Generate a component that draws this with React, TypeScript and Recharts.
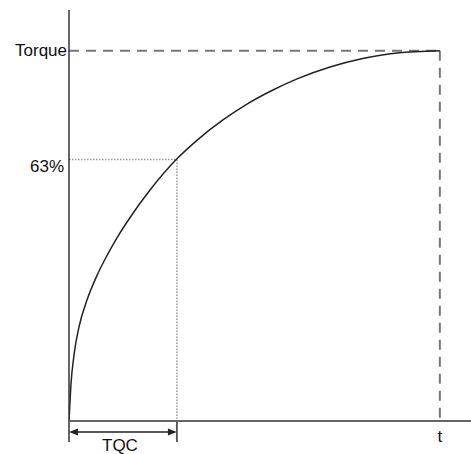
import { LineChart, Line, XAxis, YAxis, ReferenceLine } from "recharts";

// curve (x: time, y: % of final torque)
const timeValues = [0, 0.5, 1.4, 2.7, 4.9, 7.5, 10.2, 12.9, 16.7, 21.8, 29.1, 34.5, 41.5, 48, 55, 61.5, 70.4, 79.2, 88.4, 100];
const torqueValues = [0, 9.5, 18.2, 25.4, 32.8, 39.2, 44.6, 49.4, 55.3, 62.3, 70.8, 75.8, 81.3, 85.6, 89.4, 92.4, 95.6, 97.9, 99.4, 100];

const torqueLevel = 100;
const markLevel = 70.6;
const tqcTime = 29.1;
const endTime = 100;

const yTickLabels: Record<number, string> = { [markLevel]: "63%", [torqueLevel]: "Torque" };
const xTickLabels: Record<number, string> = { [tqcTime / 2]: "TQC", [endTime]: "t" };

const data = timeValues.map((t, i) => ({ t, v: torqueValues[i] }));

const FONT = "'Liberation Sans', Arial, sans-serif";

const YTick = ({ x, y, payload }: any) => {
  const isTorque = payload.value === torqueLevel;
  return (
    <text
      x={isTorque ? x : x - 3}
      y={y}
      dy={isTorque ? 5.5 : 12}
      textAnchor="end"
      fontSize={17}
      fontFamily={FONT}
      fill="#111"
    >
      {yTickLabels[payload.value]}
    </text>
  );
};

const XTick = ({ x, y, payload }: any) => {
  const isEnd = payload.value === endTime;
  return (
    <text
      x={isEnd ? x : x - 3}
      y={y}
      dy={isEnd ? 21 : 29.5}
      textAnchor="middle"
      fontSize={17}
      fontFamily={FONT}
      fill="#111"
    >
      {xTickLabels[payload.value]}
    </text>
  );
};

// double-headed arrow for the TQC span
const ArrowShape = (props: any) => {
  const { x1, y1, x2, y2 } = props;
  const len = 9;
  const h = 3.5;
  return (
    <g>
      <line x1={x1 + 3} y1={y1} x2={x2 - 3} y2={y2} stroke="#222" strokeWidth={1.5} />
      <polygon points={`${x1},${y1} ${x1 + len},${y1 - h} ${x1 + len},${y1 + h}`} fill="#222" />
      <polygon points={`${x2},${y2} ${x2 - len},${y2 - h} ${x2 - len},${y2 + h}`} fill="#222" />
    </g>
  );
};

export default function App() {
  return (
    <div style={{ position: "absolute", left: 0, top: 0, background: "#fff" }}>
      <LineChart width={471} height={454} data={data} margin={{ top: 10, right: 0, bottom: 0, left: 0 }}>
        <XAxis
          dataKey="t"
          type="number"
          domain={[0, 108.4]}
          allowDataOverflow
          ticks={[tqcTime / 2, endTime]}
          tick={<XTick />}
          tickLine={false}
          tickSize={0}
          tickMargin={0}
          axisLine={{ stroke: "#666", strokeWidth: 2 }}
          height={33}
        />
        <YAxis
          type="number"
          domain={[0, 111]}
          allowDataOverflow
          ticks={[markLevel, torqueLevel]}
          tick={<YTick />}
          tickLine={false}
          tickSize={0}
          tickMargin={2}
          axisLine={{ stroke: "#333", strokeWidth: 1.5 }}
          width={69}
        />
        <ReferenceLine
          segment={[{ x: 0, y: torqueLevel }, { x: endTime, y: torqueLevel }]}
          stroke="#777"
          strokeWidth={2}
          strokeDasharray="10 7"
          ifOverflow="visible"
        />
        <ReferenceLine
          segment={[{ x: endTime, y: torqueLevel }, { x: endTime, y: 0 }]}
          stroke="#777"
          strokeWidth={2}
          strokeDasharray="10 7"
          ifOverflow="visible"
        />
        <ReferenceLine
          segment={[{ x: 0, y: markLevel }, { x: tqcTime, y: markLevel }]}
          stroke="#999"
          strokeWidth={1.5}
          strokeDasharray="1.5 1.5"
          ifOverflow="visible"
        />
        <ReferenceLine
          segment={[{ x: tqcTime, y: markLevel }, { x: tqcTime, y: 0 }]}
          stroke="#999"
          strokeWidth={1.5}
          strokeDasharray="1.5 1.5"
          ifOverflow="visible"
        />
        <ReferenceLine
          segment={[{ x: 0, y: 0 }, { x: 0, y: -5.7 }]}
          stroke="#333"
          strokeWidth={1.5}
          ifOverflow="visible"
        />
        <ReferenceLine
          segment={[{ x: tqcTime, y: 0 }, { x: tqcTime, y: -5.7 }]}
          stroke="#333"
          strokeWidth={1.5}
          ifOverflow="visible"
        />
        <ReferenceLine
          segment={[{ x: 0, y: -3 }, { x: tqcTime, y: -3 }]}
          ifOverflow="visible"
          shape={ArrowShape}
        />
        <Line
          dataKey="v"
          type="monotone"
          stroke="#222"
          strokeWidth={1.5}
          dot={false}
          activeDot={false}
          isAnimationActive={false}
        />
      </LineChart>
    </div>
  );
}
